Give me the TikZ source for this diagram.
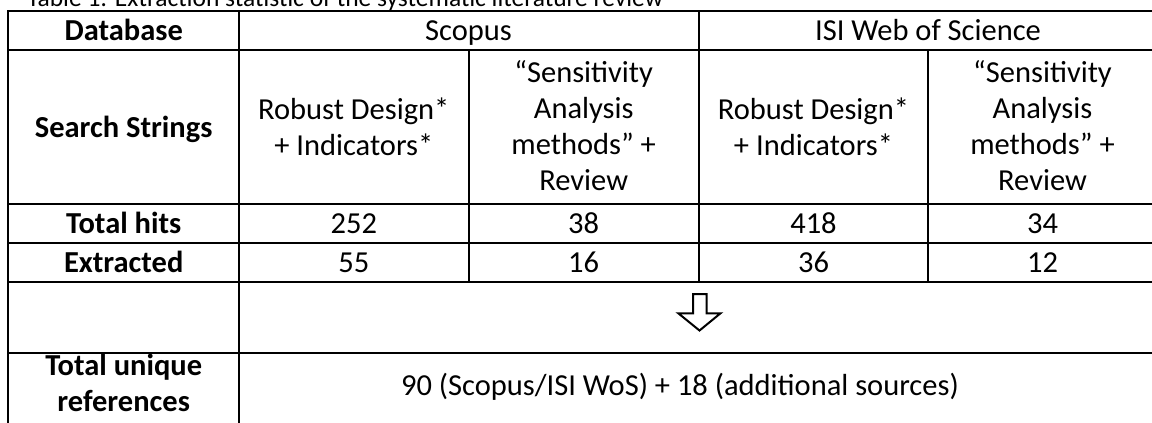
\documentclass[tikz,border=0pt]{standalone}
\usepackage{fontspec}
\setmainfont{Carlito}
\begin{document}
\begin{tikzpicture}[x=1pt,y=-1pt,
  grid/.style={line width=2pt},
  cell/.style={font=\fontsize{30.5}{36}\selectfont, inner sep=0pt, align=center, anchor=base},
  bcell/.style={cell, font=\fontsize{30.5}{36}\selectfont\bfseries},
  captext/.style={font=\fontsize{25.5}{30}\selectfont, inner sep=0pt, anchor=base west},
  arrowshape/.style={line width=2pt, line join=miter}]
\useasboundingbox (0,0) rectangle (1152,423);
\begin{scope}
\clip (0,0) rectangle (1152,423);
% horizontal rules
\draw[grid] (8.3,11) -- (1160,11);
\draw[grid] (8.3,50) -- (1160,50);
\draw[grid] (8.3,204) -- (1160,204);
\draw[grid] (8.3,243) -- (1160,243);
\draw[grid] (8.3,282) -- (1160,282);
\draw[grid] (8.3,353) -- (1160,353);
% vertical rules
\draw[grid] (8.3,10) -- (8.3,430);
\draw[grid] (239.2,10) -- (239.2,430);
\draw[grid] (468.5,50) -- (468.5,282);
\draw[grid] (699,10) -- (699,282);
\draw[grid] (928,50) -- (928,282);
\draw[grid] (1157,10) -- (1157,430);
% arrow
\draw[arrowshape] (693,294) -- (706.7,294) -- (706.7,313.3) -- (720.5,313.3)
  -- (699.5,330.5) -- (678.3,313.3) -- (693,313.3) -- cycle;
\end{scope}
% caption
\node[captext] (cap) at (27,6) {Table 1: Extraction statistic of the systematic literature review};
% header
\node[bcell] (db) at (123.7,40.5) {Database};
\node[cell] (scopus) at (468.5,40.5) {Scopus};
\node[cell] (isi) at (928,40.5) {ISI Web of Science};
% search strings (anchor = baseline of last line)
\node[bcell] (ss) at (123.7,137) {Search Strings};
\node[cell] (s1) at (353.8,155) {Robust Design*\\+ Indicators*};
\node[cell] (s2) at (583.7,190) {“Sensitivity\\Analysis\\methods” +\\Review};
\node[cell] (s3) at (813.5,155) {Robust Design*\\+ Indicators*};
\node[cell] (s4) at (1042.5,190) {“Sensitivity\\Analysis\\methods” +\\Review};
% total hits
\node[bcell] (th) at (123.7,233.5) {Total hits};
\node[cell] (th1) at (353.8,233.5) {252};
\node[cell] (th2) at (583.7,233.5) {38};
\node[cell] (th3) at (813.5,233.5) {418};
\node[cell] (th4) at (1042.5,233.5) {34};
% extracted
\node[bcell] (ex) at (123.7,272.5) {Extracted};
\node[cell] (ex1) at (353.8,272.5) {55};
\node[cell] (ex2) at (583.7,272.5) {16};
\node[cell] (ex3) at (813.5,272.5) {36};
\node[cell] (ex4) at (1042.5,272.5) {12};
% total unique
\node[bcell] (tu) at (123.7,411) {Total unique\\references};
\node[cell] (tot) at (680,395) {90 (Scopus/ISI WoS) + 18 (additional sources)};
\end{tikzpicture}
\end{document}
